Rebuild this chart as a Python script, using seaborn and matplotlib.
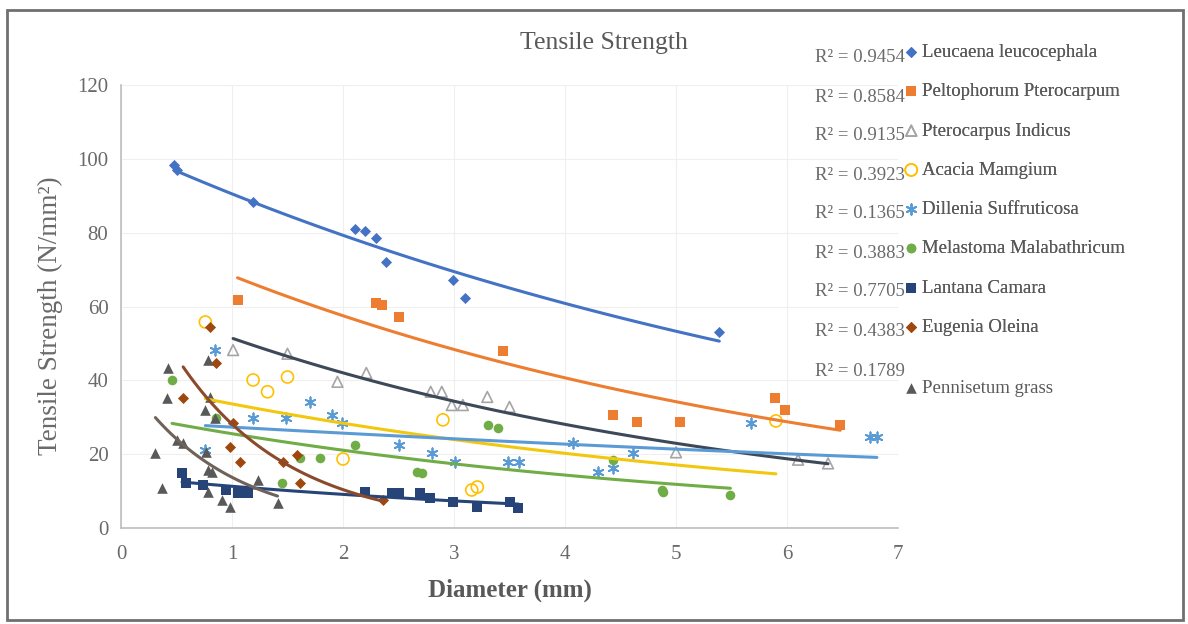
import numpy as np
import matplotlib
matplotlib.use("Agg")
import matplotlib.pyplot as plt
import seaborn as sns
from matplotlib.patches import Rectangle

sns.set_theme(style="white")
plt.rcParams["font.family"] = ["Liberation Serif", "DejaVu Serif"]

# ---------------- data ----------------
series_names = ["Leucaena leucocephala", "Peltophorum Pterocarpum", "Pterocarpus Indicus",
                "Acacia Mamgium", "Dillenia Suffruticosa", "Melastoma Malabathricum",
                "Lantana Camara", "Eugenia Oleina", "Pennisetum grass"]
r2_labels = ["0.9454", "0.8584", "0.9135", "0.3923", "0.1365", "0.3883", "0.7705", "0.4383", "0.1789"]

leucaena_x = [0.48, 0.50, 1.19, 2.11, 2.20, 2.30, 2.39, 2.99, 3.10, 5.39]
leucaena_y = [98.4, 97.0, 88.3, 81.0, 80.5, 78.6, 72.0, 67.2, 62.3, 53.1]

peltophorum_x = [1.05, 2.30, 2.35, 2.50, 3.44, 4.43, 4.65, 5.04, 5.89, 5.98, 6.48]
peltophorum_y = [61.8, 61.0, 60.4, 57.2, 48.0, 30.6, 28.7, 28.7, 35.2, 32.0, 27.9]

pterocarpus_x = [1.01, 1.50, 1.95, 2.21, 2.79, 2.89, 2.98, 3.08, 3.30, 3.50, 5.00, 6.10, 6.37]
pterocarpus_y = [48.2, 47.2, 39.6, 42.0, 36.9, 36.9, 33.3, 33.3, 35.5, 32.8, 20.5, 18.5, 17.5]

acacia_x = [0.76, 1.19, 1.32, 1.50, 2.00, 2.90, 3.16, 3.21, 5.90]
acacia_y = [55.8, 40.1, 36.9, 40.9, 18.7, 29.3, 10.3, 11.1, 29.0]

dillenia_x = [0.76, 0.85, 1.19, 1.49, 1.70, 1.90, 1.99, 2.50, 2.80, 3.01, 3.49, 3.59,
              4.07, 4.30, 4.43, 4.61, 5.68, 6.75, 6.81]
dillenia_y = [21.0, 48.2, 29.8, 29.8, 34.1, 30.6, 28.5, 22.5, 20.3, 17.9, 17.9, 17.9,
              23.0, 15.2, 16.3, 20.3, 28.5, 24.7, 24.7]

melastoma_x = [0.46, 0.86, 1.45, 1.61, 1.79, 2.11, 2.67, 2.71, 3.31, 3.40, 4.43, 4.87, 4.88, 5.49]
melastoma_y = [40.1, 29.8, 12.2, 19.0, 19.0, 22.5, 15.2, 14.9, 27.9, 27.1, 18.4, 10.3, 9.8, 8.9]

lantana_x = [0.55, 0.59, 0.74, 0.95, 1.05, 1.14, 2.20, 2.44, 2.50, 2.69, 2.78, 2.99, 3.21, 3.50, 3.58]
lantana_y = [14.9, 12.2, 11.7, 10.3, 9.5, 9.5, 9.8, 9.5, 9.5, 9.5, 8.1, 7.0, 5.7, 7.0, 5.4]

eugenia_x = [0.56, 0.80, 0.86, 0.98, 1.01, 1.07, 1.46, 1.59, 1.61, 2.36]
eugenia_y = [35.2, 54.5, 44.7, 22.0, 28.5, 17.9, 17.9, 19.8, 12.2, 7.6]

pennisetum_x = [0.31, 0.37, 0.41, 0.42, 0.50, 0.56, 0.76, 0.77, 0.78, 0.78, 0.78, 0.80,
                0.82, 0.85, 0.91, 0.98, 1.23, 1.41]
pennisetum_y = [20.3, 10.8, 35.2, 43.4, 23.8, 23.0, 32.0, 20.6, 45.5, 15.7, 9.8, 35.5,
                15.2, 29.8, 7.6, 5.7, 13.0, 6.8]

x_ticks = [0, 1, 2, 3, 4, 5, 6, 7]
y_ticks = [0, 20, 40, 60, 80, 100, 120]

# ---------------- styles ----------------
styles = [
    dict(marker="D", s=32, color="#4472C4", fc=None, line="#4472C4"),
    dict(marker="s", s=55, color="#ED7D31", fc=None, line="#ED7D31"),
    dict(marker="^", s=60, color="#A5A5A5", fc="none", line="#3D4859"),
    dict(marker="o", s=75, color="#FFC000", fc="none", line="#F2C80F"),
    dict(marker=(6, 2, 0), s=55, color="#5B9BD5", fc=None, line="#5B9BD5"),
    dict(marker="o", s=48, color="#70AD47", fc=None, line="#70AD47"),
    dict(marker="s", s=58, color="#264478", fc=None, line="#264478"),
    dict(marker="D", s=32, color="#9E480E", fc=None, line="#8B4A2B"),
    dict(marker="^", s=58, color="#595959", fc=None, line="#6F625A"),
]
xs_all = [leucaena_x, peltophorum_x, pterocarpus_x, acacia_x, dillenia_x, melastoma_x,
          lantana_x, eugenia_x, pennisetum_x]
ys_all = [leucaena_y, peltophorum_y, pterocarpus_y, acacia_y, dillenia_y, melastoma_y,
          lantana_y, eugenia_y, pennisetum_y]

W, H = 1188, 624
fig = plt.figure(figsize=(W / 100, H / 100), dpi=100)
ax = fig.add_axes([121 / W, 1 - 528 / H, (898 - 121) / W, (528 - 85) / H])

handles = []
for name, st, xv, yv in zip(series_names, styles, xs_all, ys_all):
    kw = dict(x=xv, y=yv, marker=st["marker"], s=st["s"], color=st["color"],
              ax=ax, label=name, zorder=3, legend=False)
    if st["fc"] is not None:
        kw["facecolor"] = "none"
        kw["edgecolor"] = st["color"]
        kw["linewidth"] = 1.2
    elif isinstance(st["marker"], tuple):
        kw["linewidth"] = 1.3
        kw["edgecolor"] = st["color"]
    else:
        kw["linewidth"] = 0
    sns.scatterplot(**kw)
    handles.append(ax.collections[-1])

# exponential trendlines (least squares on log y), drawn over the data range
for st, xv, yv in zip(styles, xs_all, ys_all):
    xv = np.asarray(xv, float)
    yv = np.asarray(yv, float)
    b, lna = np.polyfit(xv, np.log(yv), 1)
    xf = np.linspace(xv.min(), xv.max(), 120)
    yf = np.exp(lna) * np.exp(b * xf)
    sns.lineplot(x=xf, y=yf, ax=ax, color=st["line"], linewidth=2.2, zorder=4,
                 legend=False, sort=False)

ax.set_xlim(0, 7)
ax.set_ylim(0, 120)
ax.set_xticks(x_ticks)
ax.set_yticks(y_ticks)
ax.set_xticklabels([str(t) for t in x_ticks])
ax.set_yticklabels([str(t) for t in y_ticks])
ax.tick_params(axis="both", length=0, labelsize=15, labelcolor="#6A6A6A")
ax.tick_params(axis="x", pad=12)
ax.tick_params(axis="y", pad=9)
ax.grid(True, color="#EFEFEF", linewidth=0.8)
for side in ["top", "right"]:
    ax.spines[side].set_visible(False)
for side in ["left", "bottom"]:
    ax.spines[side].set_color("#BDBDBD")
    ax.spines[side].set_linewidth(1.2)
ax.set_xlabel("")
ax.set_ylabel("")
ax.patch.set_alpha(0)

fig.text(604 / W, 1 - 43 / H, "Tensile Strength", ha="center", va="center",
         fontsize=18.5, color="#595959")
fig.text(50 / W, 1 - 316 / H, "Tensile Strength (N/mm\u00b2)", ha="center", va="center",
         rotation=90, fontsize=19.5, color="#6A6A6A")
fig.text(510 / W, 1 - 590 / H, "Diameter (mm)", ha="center", va="center",
         fontsize=18, fontweight="bold", color="#595959")

# R² labels
r2_rows = [57, 97, 136, 175, 214, 253, 292, 332, 372]
for py, r2 in zip(r2_rows, r2_labels):
    fig.text(905 / W, 1 - py / H, "R\u00b2 = " + r2, ha="right", va="center",
             fontsize=13.5, color="#6A6A6A")

leg = fig.legend(handles[:8], series_names[:8], loc="upper left",
                 bbox_to_anchor=(900 / W, 1 - 44 / H), frameon=False,
                 fontsize=13.5, labelcolor="#595959", handletextpad=0.0,
                 handlelength=1.2, labelspacing=1.18, borderaxespad=0, borderpad=0)
fig.legend(handles[8:], series_names[8:], loc="upper left",
           bbox_to_anchor=(900 / W, 1 - 380 / H), frameon=False,
           fontsize=13.5, labelcolor="#595959", handletextpad=0.0,
           handlelength=1.2, borderaxespad=0, borderpad=0)
fig.add_artist(leg)

fig.add_artist(Rectangle((7 / W, 1 - 620 / H), (1183 - 7) / W, (620 - 10) / H,
                         transform=fig.transFigure, fill=False, edgecolor="#707070",
                         linewidth=2))

fig.savefig("out.png", dpi=100)
